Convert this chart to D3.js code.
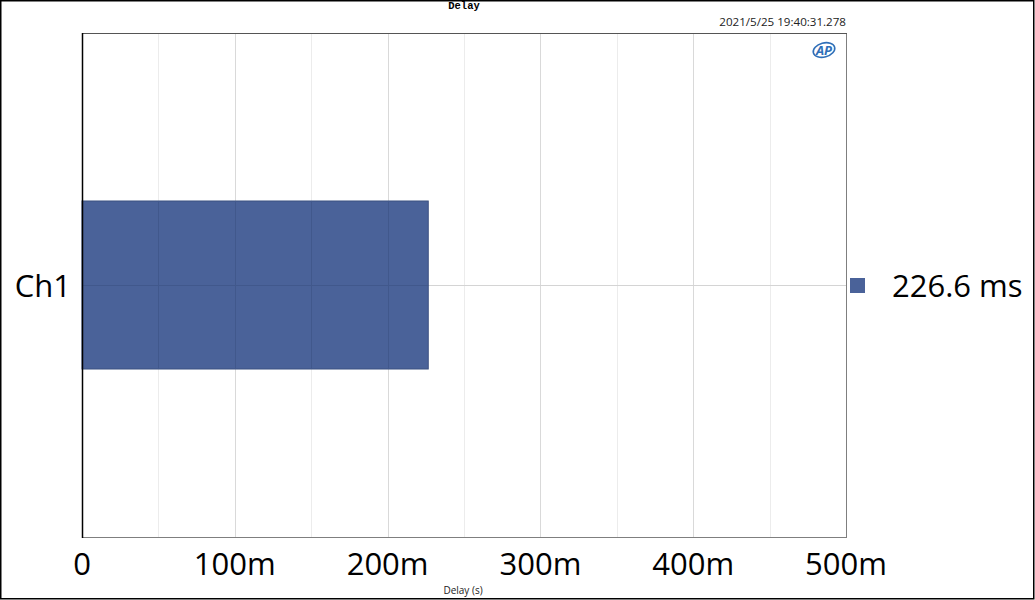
<!DOCTYPE html>
<html>
<head>
<meta charset="utf-8">
<script src="https://cdn.jsdelivr.net/npm/d3@7"></script>
<style>
  html, body { margin: 0; padding: 0; background: #fff; }
  svg { display: block; }
</style>
</head>
<body>
<svg width="1035" height="600"></svg>
<script>
// data
var channels = ["Ch1"];
var delays = [0.2266];            // seconds
var readouts = ["226.6 ms"];
var tickValues = [0, 0.1, 0.2, 0.3, 0.4, 0.5];
var tickLabels = ["0", "100m", "200m", "300m", "400m", "500m"];
var minorTicks = [0.05, 0.15, 0.25, 0.35, 0.45];
var chartTitle = "Delay";
var timestamp = "2021/5/25 19:40:31.278";
var axisTitle = "Delay (s)";

var svg = d3.select("svg"),
    width = +svg.attr("width"),
    height = +svg.attr("height");

var margin = {left: 82, right: 189, top: 33, bottom: 63};
var barColor = "#4a6299";
var sans = "'Open Sans', 'Noto Sans', sans-serif";

var x = d3.scaleLinear()
    .domain([0, 0.5])
    .range([margin.left, width - margin.right]);

var y = d3.scaleBand()
    .domain(channels)
    .range([margin.top, height - margin.bottom])
    .paddingInner(0)
    .paddingOuter(1);

var px = function(d){ return Math.round(x(d)) + 0.5 };

// outer frame
svg.append("rect")
    .attr("x", 0.75).attr("y", 0.75)
    .attr("width", width - 2).attr("height", height - 2)
    .attr("fill", "none").attr("stroke", "#000").attr("stroke-width", 1.5);

// grid
svg.append("g")
  .selectAll("line")
  .data(minorTicks)
  .enter().append("line")
    .attr("x1", px).attr("x2", px)
    .attr("y1", y.range()[0]).attr("y2", y.range()[1])
    .attr("stroke", "#ececec");

svg.append("g")
  .selectAll("line")
  .data(tickValues.slice(1, -1))
  .enter().append("line")
    .attr("x1", px).attr("x2", px)
    .attr("y1", y.range()[0]).attr("y2", y.range()[1])
    .attr("stroke", "#d9d9d9");

// category centre line
var cy = function(d){ return Math.round(y(d) + y.bandwidth() / 2) + 0.5 };
svg.append("g")
  .selectAll("line")
  .data(channels)
  .enter().append("line")
    .attr("x1", x.range()[0]).attr("x2", x.range()[1])
    .attr("y1", cy).attr("y2", cy)
    .attr("stroke", "#d4d4d4");

// bars
var bars = svg.append("g")
  .selectAll("g")
  .data(delays)
  .enter().append("g");

bars.append("rect")
    .attr("x", x(0))
    .attr("y", function(d, i){ return y(channels[i]) })
    .attr("width", function(d){ return x(d) - x(0) })
    .attr("height", y.bandwidth())
    .attr("fill", barColor)
    .attr("stroke", "#3b5080")
    .attr("stroke-width", 1);

// grid shows faintly through the bar
bars.each(function(v, i) {
  var g = d3.select(this);
  var top = y(channels[i]), bot = top + y.bandwidth();
  g.selectAll("line.gv")
    .data(tickValues.concat(minorTicks).filter(function(t){ return t > 0 && t < v }))
    .enter().append("line")
      .attr("x1", px).attr("x2", px)
      .attr("y1", top).attr("y2", bot)
      .attr("stroke", "#41588c");
  g.append("line")
      .attr("x1", x(0)).attr("x2", x(v))
      .attr("y1", cy(channels[i])).attr("y2", cy(channels[i]))
      .attr("stroke", "#41588c");
});

// plot frame
var x0 = x.range()[0], x1 = x.range()[1], y0 = y.range()[0], y1 = y.range()[1];
svg.append("line").attr("x1", x1 + 0.5).attr("x2", x1 + 0.5).attr("y1", y0).attr("y2", y1)
    .attr("stroke", "#7f7f7f");
svg.append("line").attr("x1", x0).attr("x2", x1 + 1).attr("y1", y1 + 0.5).attr("y2", y1 + 0.5)
    .attr("stroke", "#7f7f7f");
svg.append("line").attr("x1", x0).attr("x2", x1 + 1).attr("y1", y0 + 0.5).attr("y2", y0 + 0.5)
    .attr("stroke", "#555");
svg.append("line").attr("x1", x0 + 0.5).attr("x2", x0 + 0.5).attr("y1", y0).attr("y2", y1 + 1)
    .attr("stroke", "#000").attr("stroke-width", 1.5);

// x tick labels
svg.append("g")
  .selectAll("text")
  .data(tickValues)
  .enter().append("text")
    .attr("x", function(d){ return x(d) })
    .attr("y", 575)
    .attr("text-anchor", "middle")
    .style("font-family", sans)
    .style("font-size", "31px")
    .attr("fill", "#000")
    .text(function(d, i){ return tickLabels[i] });

// category labels
svg.append("g")
  .selectAll("text")
  .data(channels)
  .enter().append("text")
    .attr("x", 71)
    .attr("y", function(d){ return y(d) + y.bandwidth() / 2 + 12 })
    .attr("text-anchor", "end")
    .style("font-family", sans)
    .style("font-size", "31px")
    .attr("fill", "#000")
    .text(function(d){ return d });

// legend readouts
var leg = svg.append("g")
  .selectAll("g")
  .data(readouts)
  .enter().append("g");
leg.append("rect")
    .attr("x", 850)
    .attr("y", function(d, i){ return y(channels[i]) + y.bandwidth() / 2 - 7 })
    .attr("width", 15).attr("height", 15)
    .attr("fill", barColor);
leg.append("text")
    .attr("x", 892)
    .attr("y", function(d, i){ return y(channels[i]) + y.bandwidth() / 2 + 12 })
    .style("font-family", sans)
    .style("font-size", "31px")
    .attr("fill", "#000")
    .text(function(d){ return d });

// titles
svg.append("text")
    .attr("x", 464).attr("y", 9)
    .attr("text-anchor", "middle")
    .style("font-family", "'Liberation Mono', 'DejaVu Sans Mono', monospace")
    .style("font-size", "10.5px")
    .style("font-weight", "bold")
    .text(chartTitle);

svg.append("text")
    .attr("x", x1).attr("y", 26)
    .attr("text-anchor", "end")
    .style("font-family", sans)
    .style("font-size", "11.6px")
    .attr("fill", "#222")
    .text(timestamp);

svg.append("text")
    .attr("x", 463).attr("y", 594)
    .attr("text-anchor", "middle")
    .style("font-family", sans)
    .style("font-size", "10px")
    .attr("fill", "#222")
    .text(axisTitle);

// AP logo
var logo = svg.append("g").attr("transform", "translate(824,50)");
logo.append("ellipse")
    .attr("rx", 11).attr("ry", 7)
    .attr("fill", "none").attr("stroke", "#2f6fb8").attr("stroke-width", 1.6)
    .attr("transform", "rotate(-15)");
logo.append("text")
    .attr("x", 0).attr("y", 4.5)
    .attr("text-anchor", "middle")
    .style("font-family", sans)
    .style("font-size", "13px")
    .style("font-weight", "bold")
    .style("font-style", "italic")
    .attr("fill", "#2f6fb8")
    .text("AP");
</script>
</body>
</html>
